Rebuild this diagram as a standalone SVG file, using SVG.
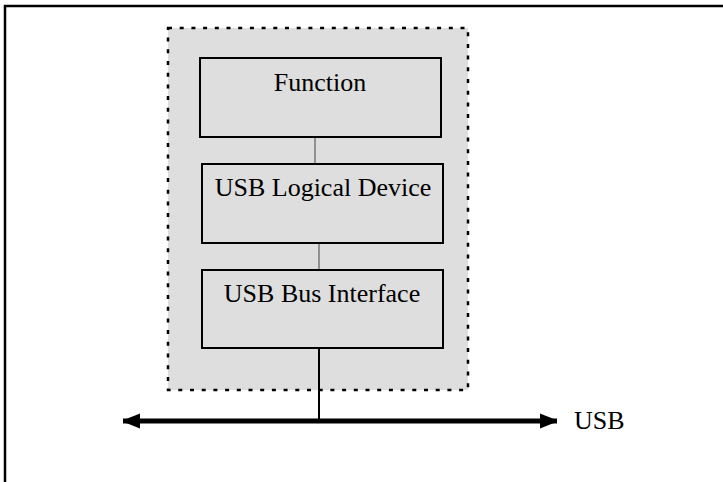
<svg xmlns="http://www.w3.org/2000/svg" width="723" height="482" viewBox="0 0 723 482">
<style>
.frame{fill:none;stroke:#000;stroke-width:2.5}
.group{fill:#dedede;stroke:#000;stroke-width:2.5;stroke-dasharray:4 7.7}
.box{fill:#dedede;stroke:#000;stroke-width:2}
.lbl{font-family:"Liberation Serif","Times New Roman",serif;font-size:26px;fill:#000;text-anchor:middle}
.thin{stroke:#444;stroke-width:1}
</style>
<defs>
<marker id="ah" viewBox="0 0 18 16" refX="17" refY="8" markerWidth="18" markerHeight="16" markerUnits="userSpaceOnUse" orient="auto-start-reverse">
<path d="M0,0.5 L17,7.3 L17,8.7 L0,15.5 Z" fill="#000"/>
</marker>
</defs>
<rect width="723" height="482" fill="#fff"/>
<path class="frame" d="M5,482 V6 H723"/>
<g id="device">
<rect class="group" x="168" y="28" width="300" height="362"/>
</g>
<g id="connectors">
<line class="thin" x1="315" y1="137" x2="315" y2="164"/>
<line class="thin" x1="319" y1="243" x2="319" y2="270"/>
<line x1="319" y1="348" x2="319" y2="421" stroke="#000" stroke-width="2"/>
<line x1="123" y1="421" x2="557" y2="421" stroke="#000" stroke-width="5" marker-start="url(#ah)" marker-end="url(#ah)"/>
</g>
<g id="function">
<rect class="box" x="200" y="58" width="241" height="79"/>
<text class="lbl" x="320" y="91">Function</text>
</g>
<g id="logical">
<rect class="box" x="202" y="164" width="241" height="79"/>
<text class="lbl" x="323" y="196">USB Logical Device</text>
</g>
<g id="businterface">
<rect class="box" x="202" y="270" width="241" height="78"/>
<text class="lbl" x="322" y="302">USB Bus Interface</text>
</g>
<g id="usb">
<text x="574" y="429" font-family="'Liberation Serif','Times New Roman',serif" font-size="26" fill="#000">USB</text>
</g>
</svg>
